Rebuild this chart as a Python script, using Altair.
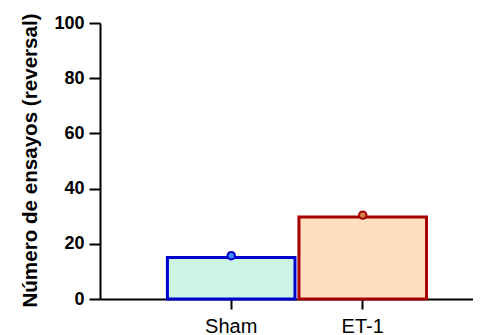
import altair as alt
import pandas as pd

groups = ["Sham", "ET-1"]
means = [15.0, 29.7]
points = [15.7, 30.4]
fills = ["#cdf5e6", "#ffdfc0"]
strokes = ["#0000cc", "#a80000"]
point_fills = ["#3a8cff", "#c8864c"]

df = pd.DataFrame({"group": groups, "mean": means, "point": points})

x = alt.X(
    "group:N",
    sort=groups,
    scale=alt.Scale(paddingInner=0.03, paddingOuter=0.433, align=0.592),
    axis=alt.Axis(
        title=None,
        labelAngle=0,
        labelFont="Liberation Sans",
        labelFontSize=20,
        labelColor="black",
        labelPadding=7,
        tickSize=10,
        tickWidth=2,
        tickColor="black",
        domainColor="black",
        domainWidth=2,
    ),
)

y_axis = alt.Axis(
    title="Número de ensayos (reversal)",
    values=[0, 20, 40, 60, 80, 100],
    grid=False,
    labelFont="Liberation Sans",
    labelFontWeight="bold",
    labelFontSize=18,
    labelColor="black",
    labelPadding=5,
    tickSize=11,
    tickWidth=2,
    tickColor="black",
    domainColor="black",
    domainWidth=2,
    titleFont="Liberation Sans",
    titleFontWeight="bold",
    titleFontSize=20.6,
    titleColor="black",
    titlePadding=13,
    titleY=137,
)
y_scale = alt.Scale(domain=[0, 100], nice=False)

bars = alt.Chart(df).mark_bar(strokeWidth=3).encode(
    x=x,
    y=alt.Y("mean:Q", scale=y_scale, axis=y_axis),
    fill=alt.Color("group:N", scale=alt.Scale(domain=groups, range=fills), legend=None),
    stroke=alt.Color("group:N", scale=alt.Scale(domain=groups, range=strokes), legend=None),
)

dots = alt.Chart(df).mark_point(filled=False, size=55, strokeWidth=2, opacity=1).encode(
    x=x,
    y=alt.Y("point:Q", scale=y_scale, axis=y_axis),
    fill=alt.Color("group:N", scale=alt.Scale(domain=groups, range=point_fills), legend=None),
    stroke=alt.Color("group:N", scale=alt.Scale(domain=groups, range=strokes), legend=None),
)

chart = (
    alt.layer(bars, dots)
    .resolve_scale(fill="independent")
    .properties(
        width=373,
        height=276,
        autosize=alt.AutoSizeParams(type="none"),
        padding={"left": 92, "top": 15, "right": 0, "bottom": 38},
    )
    .configure_view(stroke=None)
)

chart.save("out.html", embed_options={"renderer": "svg", "actions": False})
